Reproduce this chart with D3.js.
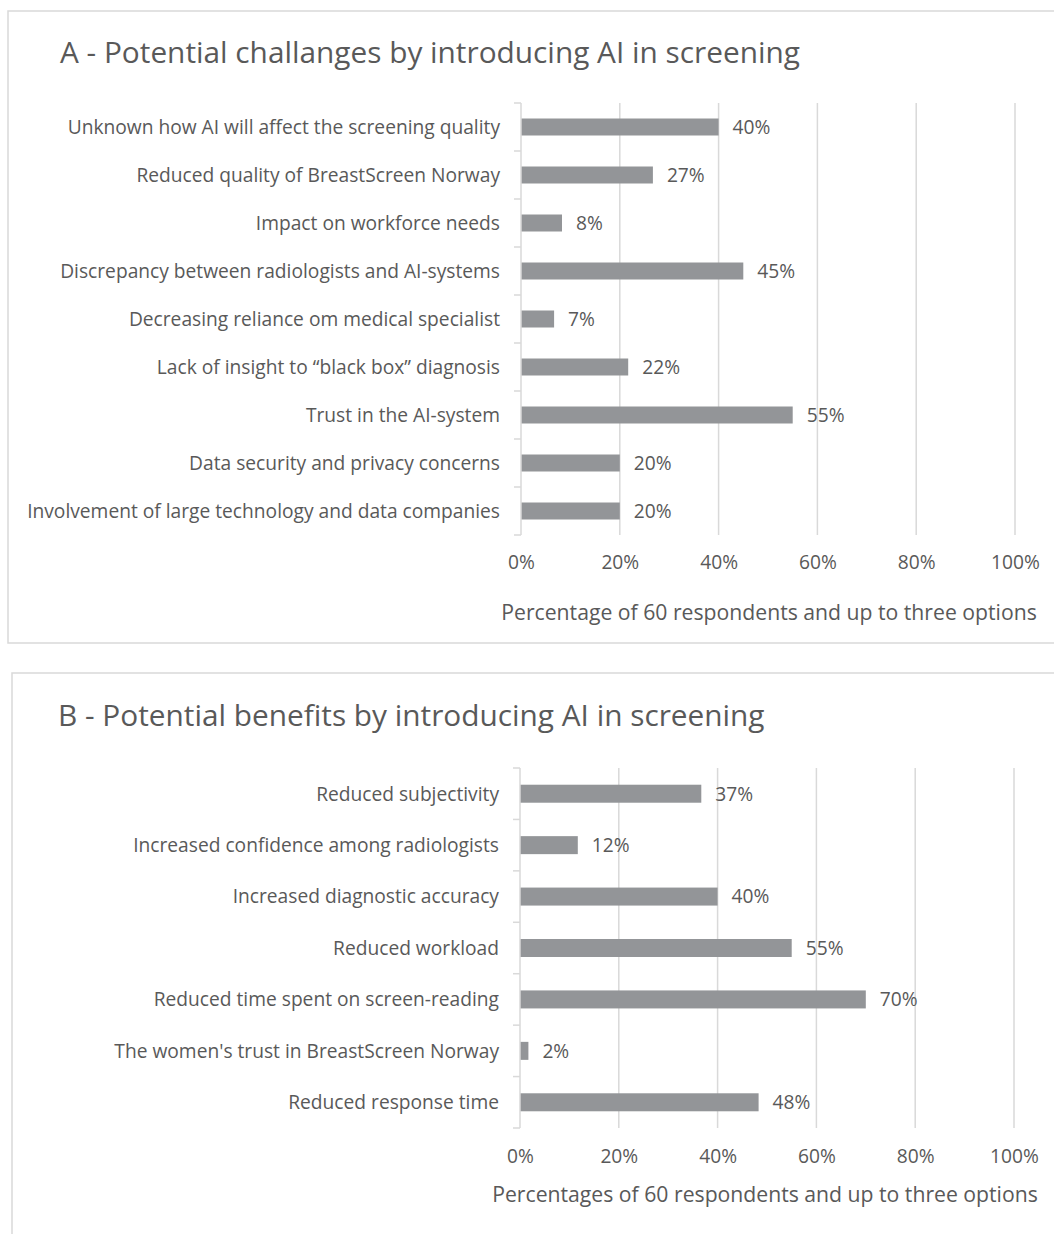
<!DOCTYPE html>
<html><head><meta charset="utf-8">
<script src="https://cdn.jsdelivr.net/npm/d3@7"></script>
<style>
html,body{margin:0;padding:0;background:#fff;}
svg{display:block;font-family:"Open Sans",sans-serif;}
</style></head>
<body><svg id="c" width="1054" height="1234"></svg>
<script>
const titleA = "A - Potential challanges by introducing AI in screening";
const categoriesA = ["Unknown how AI will affect the screening quality","Reduced quality of BreastScreen Norway","Impact on workforce needs","Discrepancy between radiologists and AI-systems","Decreasing reliance om medical specialist","Lack of insight to \u201cblack box\u201d diagnosis","Trust in the AI-system","Data security and privacy concerns","Involvement of large technology and data companies"];
const valuesA = [40, 26.7, 8.3, 45, 6.7, 21.7, 55, 20, 20];
const axisTitleA = "Percentage of 60 respondents and up to three options";

const titleB = "B - Potential benefits by introducing AI in screening";
const categoriesB = ["Reduced subjectivity","Increased confidence among radiologists","Increased diagnostic accuracy","Reduced workload","Reduced time spent on screen-reading","The women's trust in BreastScreen Norway","Reduced response time"];
const valuesB = [36.7, 11.7, 40, 55, 70, 1.7, 48.3];
const axisTitleB = "Percentages of 60 respondents and up to three options";

const tickValues = [0, 20, 40, 60, 80, 100];

const svg = d3.select("#c");
const TXT = "#595959", GRID = "#d9d9d9", BAR = "#939598";

function panel(cfg) {
  const g = svg.append("g");
  g.append("rect").attr("x", cfg.box[0]).attr("y", cfg.box[1]).attr("width", cfg.box[2]).attr("height", cfg.box[3])
    .attr("fill", "#fff").attr("stroke", GRID).attr("stroke-width", 1.5);
  g.append("text").attr("x", cfg.titleX).attr("y", cfg.titleY).attr("fill", TXT)
    .attr("font-size", 29.8).text(cfg.title);

  const x = d3.scaleLinear().domain([0, 100]).range([cfg.x0, cfg.x1]);
  const y = d3.scaleBand().domain(cfg.cats).range([cfg.y0, cfg.y1]).paddingInner(0).paddingOuter(0);
  const barH = cfg.barH;

  // gridlines
  g.append("g").selectAll("line").data(tickValues.slice(1)).join("line")
    .attr("x1", d => x(d)).attr("x2", d => x(d)).attr("y1", cfg.y0).attr("y2", cfg.y1)
    .attr("stroke", GRID).attr("stroke-width", 1.5);

  // bars
  g.append("g").selectAll("rect").data(cfg.vals).join("rect")
    .attr("x", x(0)).attr("y", (d, i) => y(cfg.cats[i]) + y.bandwidth() / 2 - barH / 2)
    .attr("width", d => x(d) - x(0)).attr("height", barH).attr("fill", BAR);

  // value labels
  g.append("g").selectAll("text").data(cfg.vals).join("text")
    .attr("x", d => x(d) + 14).attr("y", (d, i) => y(cfg.cats[i]) + y.bandwidth() / 2)
    .attr("dy", "0.36em").attr("fill", TXT).attr("font-size", 19.2)
    .text(d => Math.round(d) + "%");

  // category axis
  const ax = g.append("g");
  ax.append("line").attr("x1", x(0)).attr("x2", x(0)).attr("y1", cfg.y0).attr("y2", cfg.y1)
    .attr("stroke", GRID).attr("stroke-width", 1.5);
  const bounds = cfg.cats.map(c => y(c)).concat([cfg.y1]);
  ax.selectAll("line.t").data(bounds).join("line").attr("class", "t")
    .attr("x1", x(0) - 7).attr("x2", x(0)).attr("y1", d => d).attr("y2", d => d)
    .attr("stroke", GRID).attr("stroke-width", 1.5);
  ax.selectAll("text").data(cfg.cats).join("text")
    .attr("x", x(0) - 21).attr("y", d => y(d) + y.bandwidth() / 2).attr("dy", "0.36em")
    .attr("text-anchor", "end").attr("fill", TXT).attr("font-size", 19.2).text(d => d);

  // x axis labels
  const xa = g.append("g").attr("transform", `translate(0,${cfg.y1})`)
    .call(d3.axisBottom(x).tickValues(tickValues).tickSize(0).tickPadding(cfg.tickPad).tickFormat(d => d + "%"));
  xa.select(".domain").remove();
  xa.selectAll("text").attr("fill", TXT).attr("font-size", 19.2).attr("font-family", "Open Sans");

  g.append("text").attr("x", cfg.atX).attr("y", cfg.atY).attr("text-anchor", "middle")
    .attr("fill", TXT).attr("font-size", 21.2).text(cfg.axisTitle);
}

panel({box: [8, 11, 1052, 632], title: titleA, titleX: 60, titleY: 63,
  cats: categoriesA, vals: valuesA, x0: 521, x1: 1015, y0: 103, y1: 535, barH: 17,
  tickPad: 20, axisTitle: axisTitleA, atX: 769, atY: 620});

panel({box: [12, 673, 1048, 600], title: titleB, titleX: 58, titleY: 726,
  cats: categoriesB, vals: valuesB, x0: 520, x1: 1014, y0: 768, y1: 1128, barH: 18,
  tickPad: 21, axisTitle: axisTitleB, atX: 765, atY: 1202});
</script></body></html>
